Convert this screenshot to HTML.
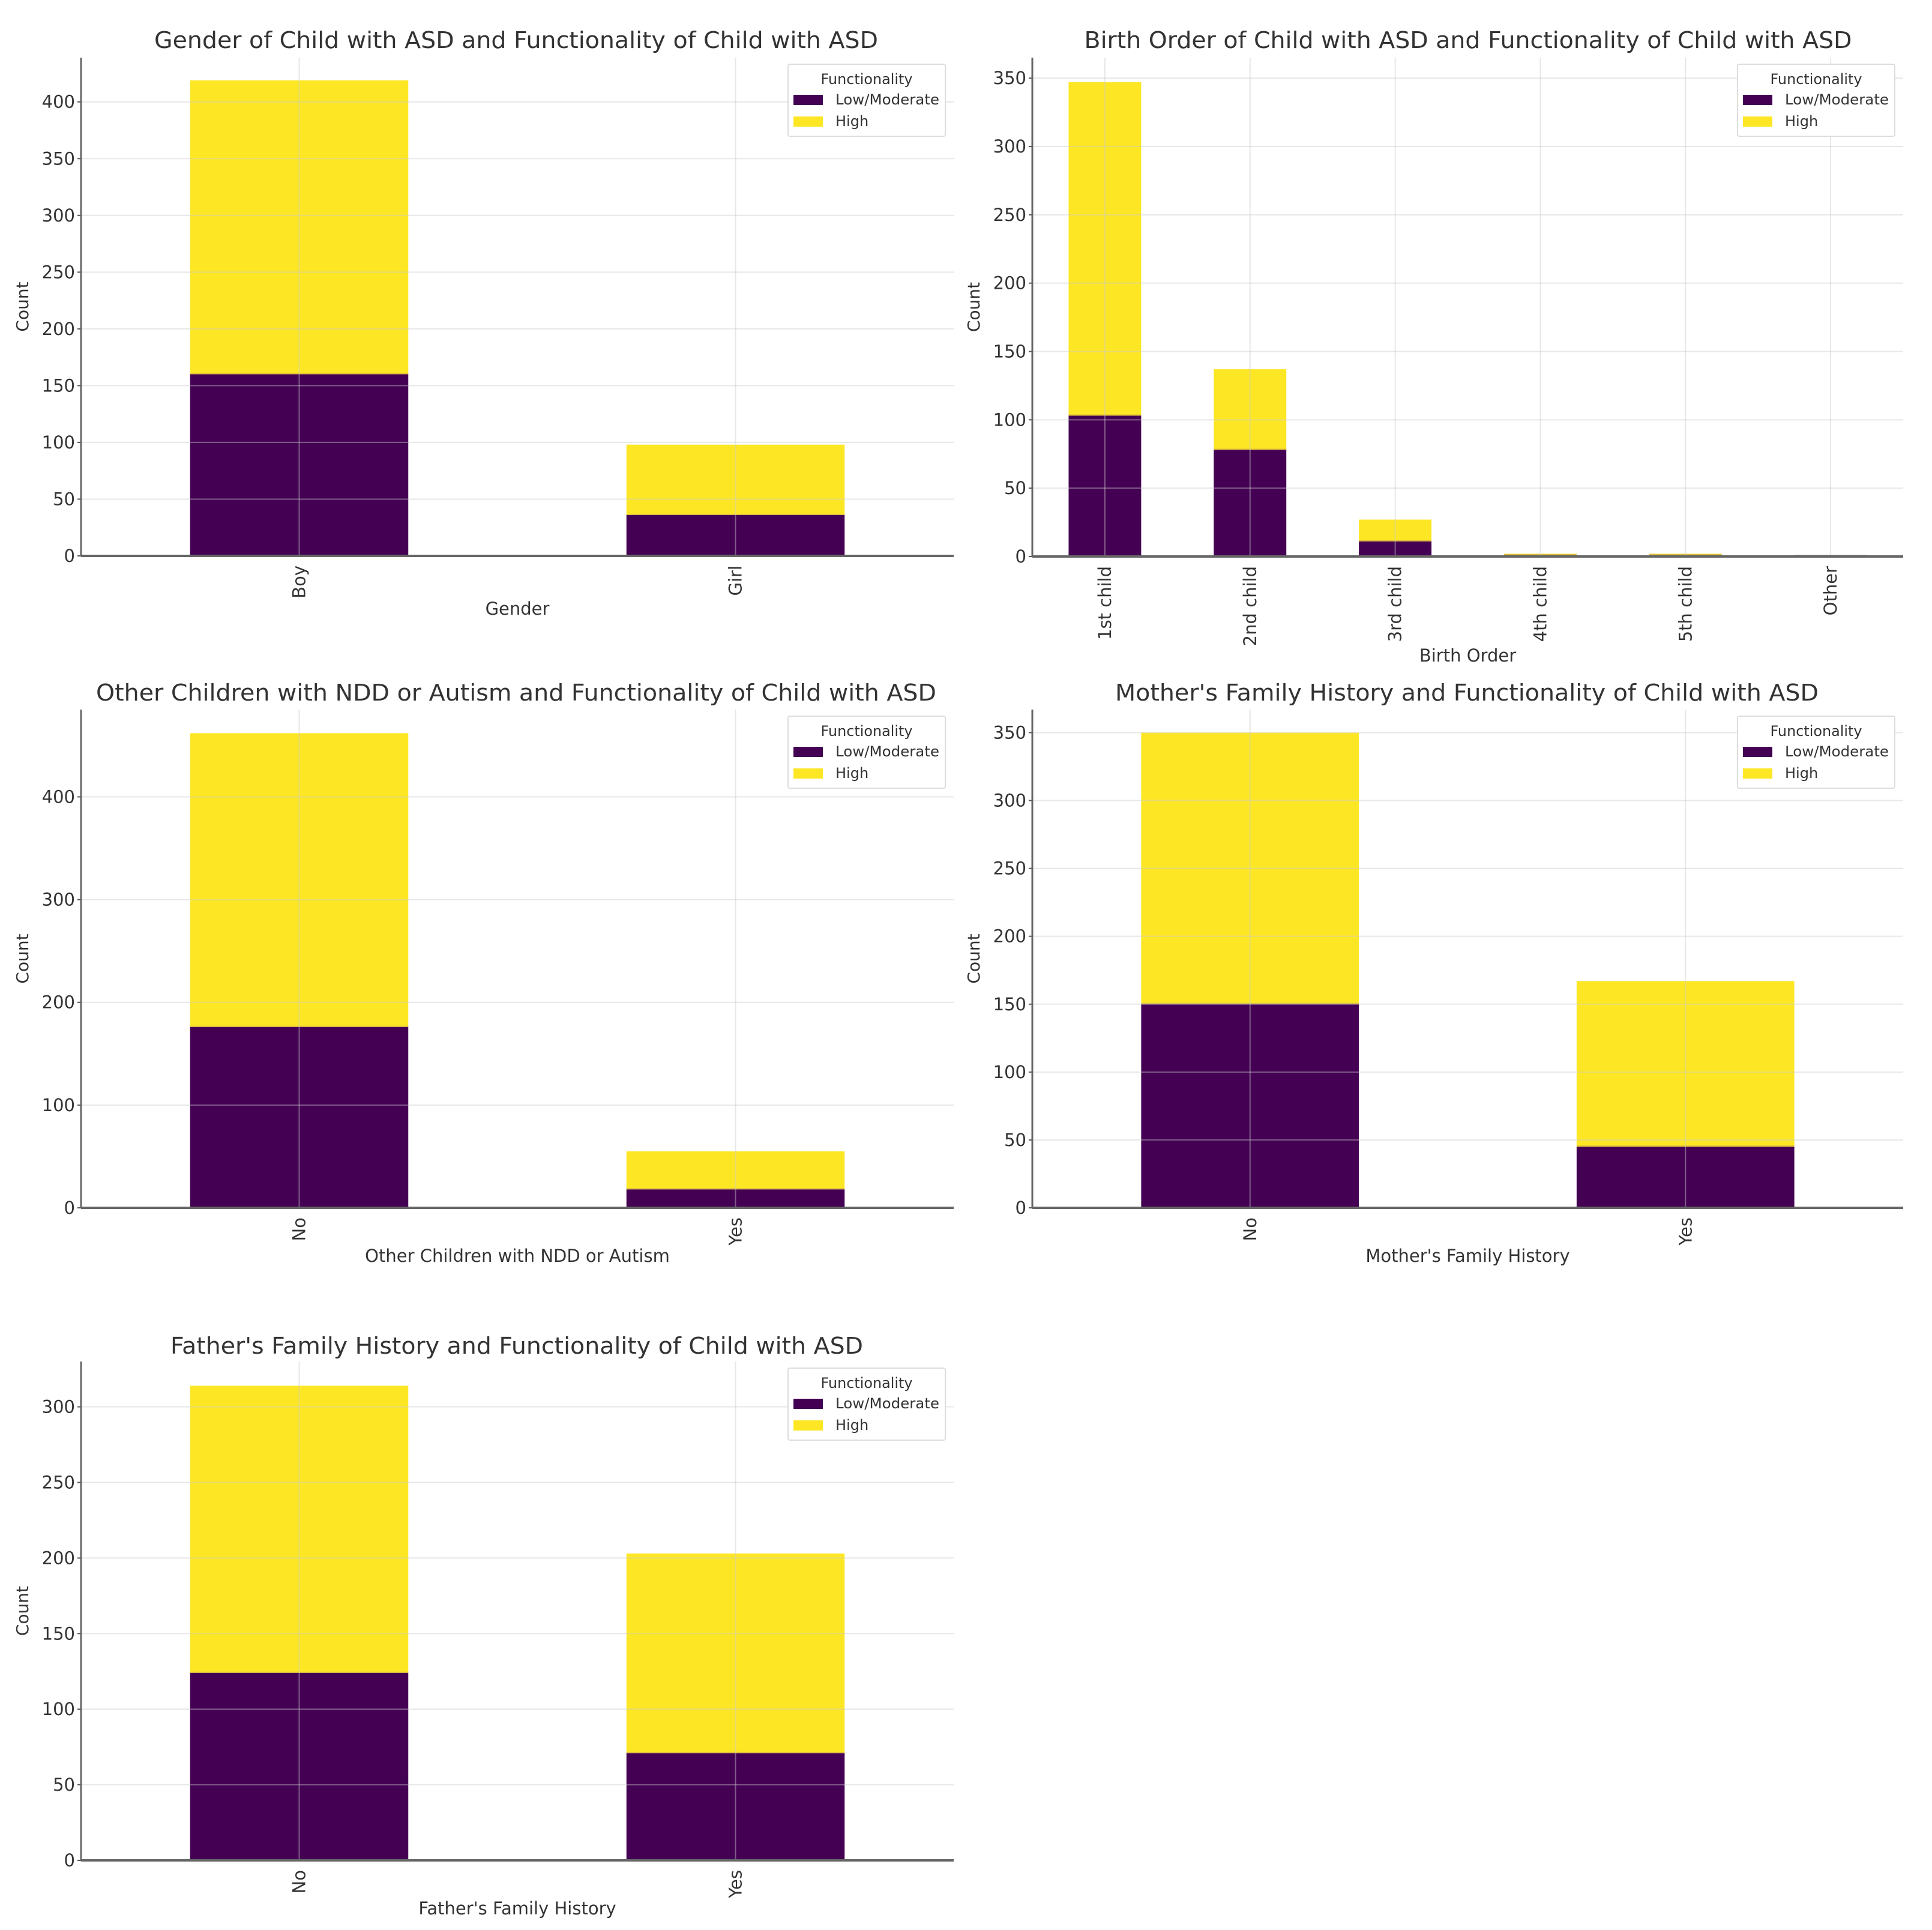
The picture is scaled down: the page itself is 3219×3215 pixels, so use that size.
<!DOCTYPE html>
<html><head><meta charset="utf-8"><style>
html,body{margin:0;padding:0;background:#fff;}
svg{display:block;font-family:"DejaVu Sans","Liberation Sans",sans-serif;}
</style></head><body>
<svg id="root" width="3219" height="3215" viewBox="0 0 3219 3215" xmlns="http://www.w3.org/2000/svg">
<rect x="0" y="0" width="3219" height="3215" fill="#fff"/>
</svg>
<script>
// ---- data ----
const genderCats = ["Boy","Girl"];
const genderLow = [160, 36];
const genderHigh = [259, 62];
const genderTicks = [0,50,100,150,200,250,300,350,400];

const birthCats = ["1st child","2nd child","3rd child","4th child","5th child","Other"];
const birthLow = [103, 78, 11, 1, 1, 1];
const birthHigh = [244, 59, 16, 1, 1, 0];
const birthTicks = [0,50,100,150,200,250,300,350];

const otherCats = ["No","Yes"];
const otherLow = [176, 18];
const otherHigh = [286, 37];
const otherTicks = [0,100,200,300,400];

const motherCats = ["No","Yes"];
const motherLow = [150, 45];
const motherHigh = [200, 122];
const motherTicks = [0,50,100,150,200,250,300,350];

const fatherCats = ["No","Yes"];
const fatherLow = [124, 71];
const fatherHigh = [190, 132];
const fatherTicks = [0,50,100,150,200,250,300];

const seriesNames = ["Low/Moderate","High"];
// ---- rendering ----
const NS = "http://www.w3.org/2000/svg";
const root = document.getElementById("root");
const PURPLE = "#440154", YELLOW = "#fde725";
function mk(tag, attrs, parent){
  const e = document.createElementNS(NS, tag);
  for (const k in attrs) e.setAttribute(k, attrs[k]);
  (parent||root).appendChild(e);
  return e;
}
function drawChart(cfg){
  const g = mk("g", {});
  
  
  const L = cfg.left, R = cfg.right, B = cfg.base, T = cfg.top;
  const ymax = cfg.ymax;
  const yS = v => B - (v / ymax) * (B - T);
  const n = cfg.cats.length;
  const step = (R - L) / n;
  const xS = i => L + step * (i + 0.5);
  const bw = step * 0.5;

  const t = mk("text", {x: cfg.titleX, y: cfg.titleY, "text-anchor": "middle", "font-size": 38, fill: "#333", textLength: cfg.titleW, lengthAdjust: "spacingAndGlyphs"}, g);
  t.textContent = cfg.title;
  
  

  for (let i = 0; i < n; i++) {
    const lo = cfg.low[i], hi = cfg.high[i];
    const r1 = mk("rect", {x: xS(i) - bw/2, y: yS(lo), width: bw, height: yS(0) - yS(lo), fill: PURPLE}, g);
    
    
    const r2 = mk("rect", {x: xS(i) - bw/2, y: yS(lo + hi), width: bw, height: yS(lo) - yS(lo + hi), fill: YELLOW}, g);
    
    
    if (lo > 0 && hi > 0) mk("line", {x1: xS(i)-bw/2, x2: xS(i)+bw/2, y1: yS(lo)-1, y2: yS(lo)-1, stroke: "#c8a24a", "stroke-width": 2, opacity: 0.6}, g);
  }
  cfg.ticks.forEach(v => {
    const y = yS(v);
    const gl = mk("line", {x1: L, x2: R, y1: y, y2: y, stroke: "#ccc", "stroke-width": 2, opacity: 0.45}, g);
    
    
    const tl = mk("text", {x: L - 10, y: y + 10, "text-anchor": "end", "font-size": 29, fill: "#333"}, g);
    tl.textContent = String(v);
    
    
    mk("line", {x1: L - 6, x2: L, y1: y, y2: y, stroke: "#555", "stroke-width": 2}, g);
  });
  for (let i = 0; i < n; i++) {
    const x = xS(i);
    const gl = mk("line", {x1: x, x2: x, y1: T, y2: B, stroke: "#ccc", "stroke-width": 2, opacity: 0.45}, g);
    
    
    const tl = mk("text", {x: 0, y: 0, "text-anchor": "end", "font-size": 29, fill: "#333", transform: "translate(" + (x + 10) + "," + (B + 16) + ") rotate(-90)"}, g);
    tl.textContent = cfg.cats[i];
    
    
  }
  const sp1 = mk("line", {x1: L, x2: L, y1: T, y2: B, stroke: "#666", "stroke-width": 3}, g);
  
  
  const sp2 = mk("line", {x1: L, x2: R, y1: B, y2: B, stroke: "#666", "stroke-width": 4}, g);
  
  

  const yl = mk("text", {x: 0, y: 0, "text-anchor": "middle", "font-size": 28, fill: "#333", transform: "translate(" + (L - 88) + "," + ((T + B)/2) + ") rotate(-90)"}, g);
  yl.textContent = "Count";
  
  
  const xl = mk("text", {x: (L + R)/2, y: B + cfg.xlabOff, "text-anchor": "middle", "font-size": 29, fill: "#333"}, g);
  xl.textContent = cfg.xlabel;
  
  

  const lg = mk("g", {}, g);
  
  
  const lx = R - 276, ly = T + 11;
  mk("rect", {x: lx, y: ly, width: 262, height: 120, fill: "#fff", stroke: "#ddd", "stroke-width": 2, rx: 3}, lg);
  const lt = mk("text", {x: lx + 131, y: ly + 33, "text-anchor": "middle", "font-size": 24, fill: "#333", textLength: 153, lengthAdjust: "spacingAndGlyphs"}, lg);
  lt.textContent = "Functionality";
  
  
  [PURPLE, YELLOW].forEach((c, k) => {
    const yy = ly + 51 + k * 36;
    const p = mk("rect", {x: lx + 9, y: yy, width: 49, height: 17, fill: c}, lg);
    
    
    const tx = mk("text", {x: lx + 79, y: yy + 16, "font-size": 24, fill: "#333"}, lg);
    if (k === 0) { tx.setAttribute("textLength", 173); tx.setAttribute("lengthAdjust", "spacingAndGlyphs"); }
    tx.textContent = seriesNames[k];
    
    
  });
}

drawChart({name:"gender-chart", title:"Gender of Child with ASD and Functionality of Child with ASD", titleX:860, titleY:80, titleW:1206,
  left:135, right:1589, top:96, base:926, ymax:439, cats:genderCats, low:genderLow, high:genderHigh, ticks:genderTicks, xlabel:"Gender", xlabOff:98});
drawChart({name:"birth-order-chart", title:"Birth Order of Child with ASD and Functionality of Child with ASD", titleX:2446, titleY:80, titleW:1279,
  left:1720, right:3171, top:96, base:927, ymax:365, cats:birthCats, low:birthLow, high:birthHigh, ticks:birthTicks, xlabel:"Birth Order", xlabOff:175});
drawChart({name:"other-children-chart", title:"Other Children with NDD or Autism and Functionality of Child with ASD", titleX:860, titleY:1167, titleW:1400,
  left:135, right:1589, top:1182, base:2012, ymax:485, cats:otherCats, low:otherLow, high:otherHigh, ticks:otherTicks, xlabel:"Other Children with NDD or Autism", xlabOff:90});
drawChart({name:"mother-history-chart", title:"Mother's Family History and Functionality of Child with ASD", titleX:2444, titleY:1167, titleW:1172,
  left:1720, right:3171, top:1182, base:2012, ymax:367, cats:motherCats, low:motherLow, high:motherHigh, ticks:motherTicks, xlabel:"Mother's Family History", xlabOff:90});
drawChart({name:"father-history-chart", title:"Father's Family History and Functionality of Child with ASD", titleX:861, titleY:2255, titleW:1154,
  left:135, right:1589, top:2268, base:3099, ymax:330, cats:fatherCats, low:fatherLow, high:fatherHigh, ticks:fatherTicks, xlabel:"Father's Family History", xlabOff:90});
</script>
</body></html>
